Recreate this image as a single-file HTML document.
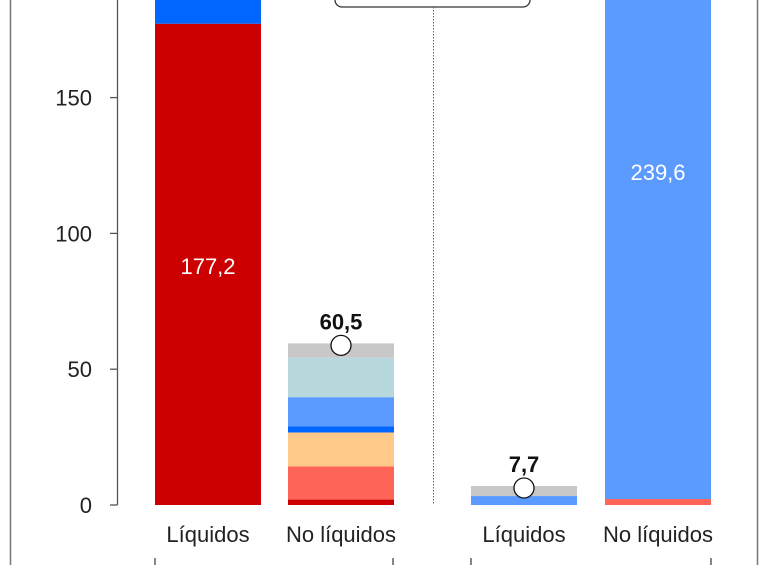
<!DOCTYPE html>
<html><head><meta charset="utf-8"><style>
html,body{margin:0;padding:0;background:#fff;}
svg{display:block;font-family:"Liberation Sans Narrow","Liberation Sans",sans-serif;}
</style></head><body>
<svg id="chart" width="769" height="565" viewBox="0 0 769 565">
<line x1="10.5" y1="0" x2="10.5" y2="565" stroke="#777" stroke-width="1.5"/>
<line x1="757.5" y1="0" x2="757.5" y2="565" stroke="#777" stroke-width="1.5"/>
<rect x="335" y="-12" width="195" height="19" rx="7" fill="#fff" stroke="#333" stroke-width="1.3"/>
<line x1="433.5" y1="7" x2="433.5" y2="505" stroke="#666" stroke-width="1" stroke-dasharray="1.5,1.5"/>
<g id="axis"></g>
<g id="bars"></g>
<g id="labels"></g>
</svg>
<script>
const categories = ["Líquidos","No líquidos","Líquidos","No líquidos"];
const segColors = ["#cc0000","#ff6459","#ffc98a","#0066ff","#5b9bff","#b7d8dc","#c8c8c8"];
const seriesDarkRed = [177.2, 2.0, 0, 0];
const seriesCoral   = [0, 12.2, 0, 2.2];
const seriesPeach   = [0, 12.5, 0, 0];
const seriesBlue    = [30, 2.2, 0, 0];
const seriesLight   = [0, 10.8, 3.3, 237.4];
const seriesTeal    = [0, 14.5, 0, 0];
const seriesGray    = [0, 5.3, 3.7, 0];
const totals = ["177,2","60,5","7,7","239,6"];
const yTicks = [0,50,100,150];

const NS="http://www.w3.org/2000/svg";
const y0=505, ppu=2.716;
function yScale(v){return y0-v*ppu;}
const barX=[155,288,471,605], barW=106;
function mk(t,a,p){const e=document.createElementNS(NS,t);for(const k in a)e.setAttribute(k,a[k]);p.appendChild(e);return e;}

const axis=document.getElementById('axis');
const al=mk('line',{x1:117.5,y1:0,x2:117.5,y2:y0,stroke:'#555','stroke-width':1.3},axis);


yTicks.forEach(t=>{
  const y=yScale(t);
  const tl=mk('line',{x1:110,y1:y,x2:117.5,y2:y,stroke:'#555','stroke-width':1.3},axis);
  
  
  const tx=mk('text',{x:92,y:y+8,'text-anchor':'end','font-size':22,fill:'#222'},axis);
  tx.textContent=t;
  
  
});

const bars=document.getElementById('bars');
const series=[seriesDarkRed,seriesCoral,seriesPeach,seriesBlue,seriesLight,seriesTeal,seriesGray];
categories.forEach((c,i)=>{
  let acc=0;
  series.forEach((s,j)=>{
    const v=s[i]; if(!v) return;
    const r=mk('rect',{x:barX[i],y:yScale(acc+v),width:barW,height:v*ppu,fill:segColors[j]},bars);
    
    
    acc+=v;
  });
});
// value labels
function label(txt,x,y,fill,bold,name){
  const t=mk('text',{x:x,y:y,'text-anchor':'middle','font-size':22,fill:fill,'font-weight':bold?'bold':'normal'},bars);
  t.textContent=txt;
  
  
}
label(totals[0],barX[0]+barW/2,274,'#fff',false,'value-label-0');
label(totals[3],barX[3]+barW/2,180,'#fff',false,'value-label-3');
[1,2].forEach(i=>{
  let tot=0; series.forEach(s=>tot+=s[i]);
  const cy=yScale(tot)+2;
  const c=mk('circle',{cx:barX[i]+barW/2,cy:cy,r:10,fill:'#fff',stroke:'#111','stroke-width':1.3},bars);
  
  
  label(totals[i],barX[i]+barW/2,cy-16,'#111',true,'total-label-'+i);
});

const labels=document.getElementById('labels');
categories.forEach((c,i)=>{
  const t=mk('text',{x:barX[i]+barW/2,y:542,'text-anchor':'middle','font-size':22,fill:'#222'},labels);
  t.textContent=c;
  
  
});
[155,393,471,711].forEach((x,i)=>{
  const l=mk('line',{x1:x,y1:558,x2:x,y2:565,stroke:'#444','stroke-width':1.3},labels);
  
  
});
</script>
</body></html>
